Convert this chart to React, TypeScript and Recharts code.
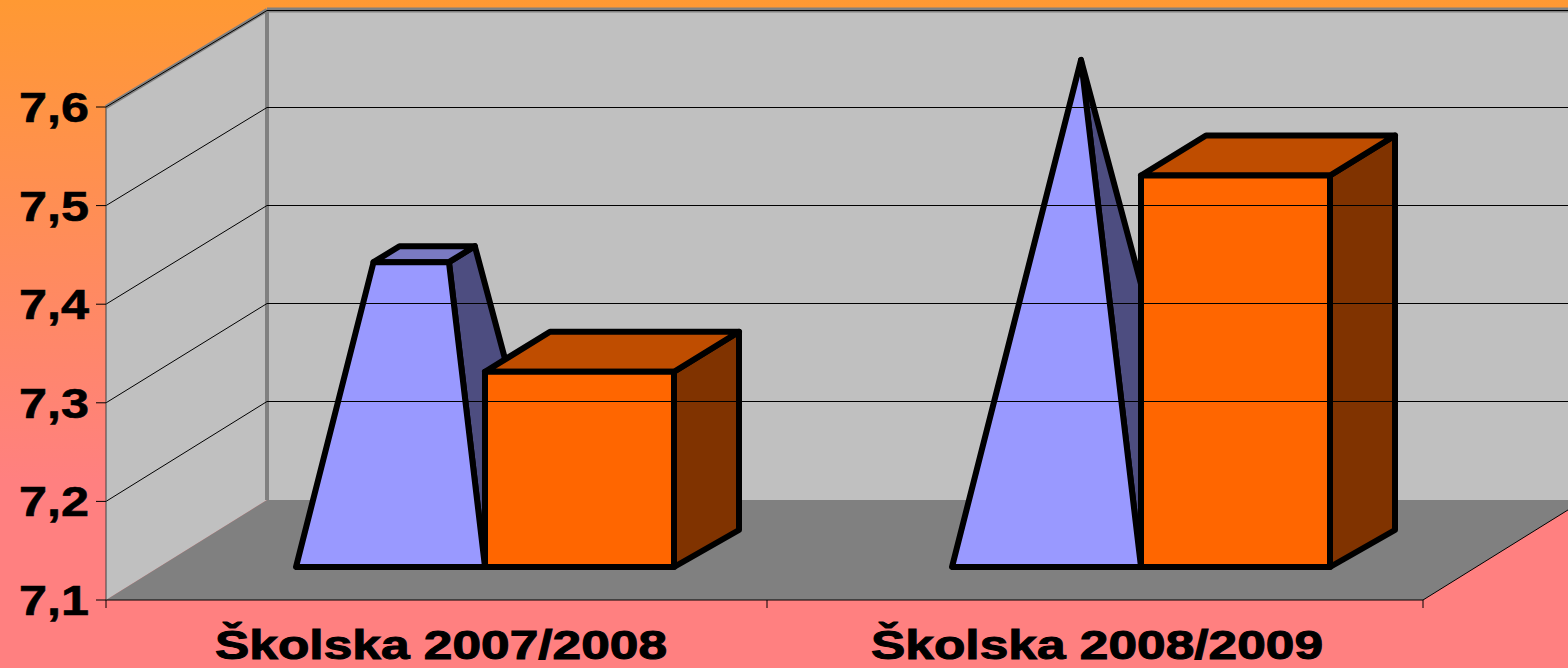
import React from "react";
import { BarChart, Bar, XAxis, YAxis, ReferenceArea, ReferenceLine } from "recharts";

const categories = ["Školska 2007/2008", "Školska 2008/2009"];
const pyramidValues = [7.397, 7.594];
const boxValues = [7.298, 7.497];
const yTicks = [7.1, 7.2, 7.3, 7.4, 7.5, 7.6];
const rows = categories.map((name, i) => ({ name, pyramid: pyramidValues[i], box: boxValues[i] }));

const W = 1568, H = 668;
const AXIS_MIN = 7.1, AXIS_MAX = 7.6;
const PEAK = Math.max(...pyramidValues);
const WALL_DX = 161, WALL_DY = 100, BACK_SCALE = 490 / 493, FLOOR_Y = 600, FLOOR_RIGHT = 1423;
const BAR_DX = 65, BAR_DY = 40, BAR_DY_BOTTOM = 37, SHIFT_X = 51, SHIFT_Y = 33;
const FONT = "'Liberation Sans', Arial, sans-serif";
const pts = (a: number[][]) => a.map((p) => p.join(",")).join(" ");
const backY = (y: number) => FLOOR_Y - WALL_DY - (FLOOR_Y - y) * BACK_SCALE;
const common = { stroke: "#000", strokeWidth: 6, strokeLinejoin: "round" as const };

const Walls = ({ x, y, height }: any) => {
  const b = y + height;
  const by = backY(y), bb = backY(b);
  const bx = x + WALL_DX;
  const br = FLOOR_RIGHT + WALL_DX;
  return (
    <g>
      <polygon points={pts([[x, y], [bx, by], [bx, bb], [x, b]])} fill="#C0C0C0" />
      <rect x={bx} y={by} width={br - bx} height={bb - by} fill="#C0C0C0" />
      <polygon points={pts([[x, b], [bx, bb], [br, bb], [FLOOR_RIGHT, b]])} fill="#808080" />
      <line x1={x} y1={y} x2={bx} y2={by} stroke="#808080" strokeWidth={4} />
      <line x1={bx} y1={by} x2={br} y2={by} stroke="#808080" strokeWidth={5} />
      <line x1={bx} y1={by} x2={bx} y2={bb} stroke="#808080" strokeWidth={4} />
      <line x1={FLOOR_RIGHT} y1={b} x2={br} y2={bb} stroke="#000" strokeWidth={1} />
    </g>
  );
};

const GridLine = ({ x1, y1 }: any) => {
  const by = Math.floor(backY(y1)) + 0.5;
  return <polyline points={pts([[x1, y1], [x1 + WALL_DX, by], [FLOOR_RIGHT + WALL_DX, by]])} fill="none" stroke="#000" strokeWidth={1} />;
};

const PyramidShape = ({ x, y, width, height, value }: any) => {
  const v = Array.isArray(value) ? value[1] : value;
  const x0 = x + SHIFT_X, b = y + height - SHIFT_Y;
  const t = (v - AXIS_MIN) / (PEAK - AXIS_MIN);
  const apex = [x0 + width / 2 + BAR_DX / 2 + 2, b - BAR_DY / 2 - (PEAK - AXIS_MIN) * (height / (v - AXIS_MIN))];
  const at = (p: number[]) => [p[0] + (apex[0] - p[0]) * t, p[1] + (apex[1] - p[1]) * t];
  const fl = [x0, b], fr = [x0 + width, b], br = [x0 + width + BAR_DX, b - BAR_DY], bl = [x0 + BAR_DX, b - BAR_DY];
  const tfl = at(fl), tfr = at(fr), tbr = at(br), tbl = at(bl);
  return (
    <g>
      <polygon points={pts([fr, br, tbr, tfr])} fill="#4D4D80" {...common} />
      {t < 0.999 && <polygon points={pts([tfl, tfr, tbr, tbl])} fill="#7A7AC2" {...common} />}
      <polygon points={pts([fl, fr, tfr, tfl])} fill="#9999FF" {...common} />
    </g>
  );
};

const BoxShape = ({ x, y, width, height }: any) => {
  const x0 = x + SHIFT_X, b = y + height - SHIFT_Y, t = y - SHIFT_Y;
  return (
    <g>
      <polygon points={pts([[x0 + width, b], [x0 + width + BAR_DX, b - BAR_DY_BOTTOM], [x0 + width + BAR_DX, t - BAR_DY], [x0 + width, t]])} fill="#803300" {...common} />
      <polygon points={pts([[x0, t], [x0 + width, t], [x0 + width + BAR_DX, t - BAR_DY], [x0 + BAR_DX, t - BAR_DY]])} fill="#BF4D00" {...common} />
      <rect x={x0} y={t} width={width} height={height} fill="#FF6600" {...common} />
    </g>
  );
};

const YTick = ({ y, payload }: any) => (
  <text x={19} y={y + 15} fontFamily={FONT} fontWeight={700} fontSize={43} textLength={70} lengthAdjust="spacingAndGlyphs" fill="#000" stroke="#000" strokeWidth={0.6}>
    {String(payload.value.toFixed(1)).replace(".", ",")}
  </text>
);

const XTick = ({ x, payload, index }: any) => (
  <g>
    {index === 0 && <line x1={x - 328} y1={FLOOR_Y} x2={x - 328} y2={FLOOR_Y + 8} stroke="#000" strokeWidth={1} />}
    <line x1={x + 333} y1={FLOOR_Y} x2={x + 333} y2={FLOOR_Y + 8} stroke="#000" strokeWidth={1} />
    <text x={x + 7} y={659.4} textAnchor="middle" fontFamily={FONT} fontWeight={700} fontSize={40} textLength={452} lengthAdjust="spacingAndGlyphs" fill="#000" stroke="#000" strokeWidth={1}>
      {payload.value}
    </text>
  </g>
);

export default function App() {
  return (
    <div style={{ position: "absolute", left: 0, top: 0, width: W, height: H, overflow: "hidden", background: "linear-gradient(180deg, #FF9933 0%, #FF8080 72%, #FF8080 100%)" }}>
      <BarChart width={W} height={H} data={rows} margin={{ top: 107, right: 145, bottom: 0, left: 0 }} barSize={189} barGap={0}>
        <XAxis dataKey="name" height={68} padding={{ left: 0, right: 5 }} tick={<XTick />} tickLine={false} axisLine={{ stroke: "#000", strokeWidth: 1 }} interval={0} />
        <YAxis width={106} domain={[AXIS_MIN, AXIS_MAX]} ticks={yTicks} tick={<YTick />} tickSize={10} tickLine={{ stroke: "#000" }} axisLine={{ stroke: "#404040", strokeWidth: 1 }} />
        <ReferenceArea y1={AXIS_MIN} y2={AXIS_MAX} shape={<Walls />} />
        {yTicks.slice(1).map((t) => (
          <ReferenceLine key={t} y={t} shape={<GridLine />} />
        ))}
        <Bar dataKey="pyramid" isAnimationActive={false} shape={<PyramidShape />} />
        <Bar dataKey="box" isAnimationActive={false} shape={<BoxShape />} />
      </BarChart>
    </div>
  );
}
